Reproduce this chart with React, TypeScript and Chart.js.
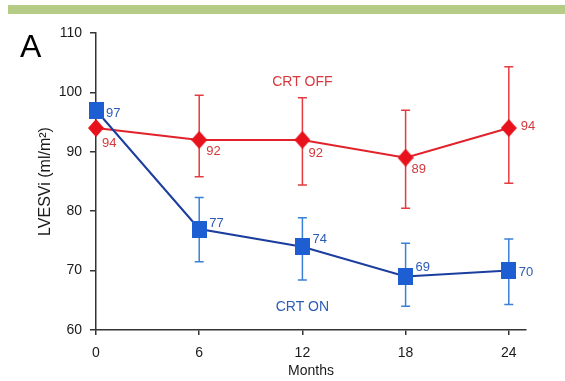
import React, { useEffect, useRef } from 'react';
import { Chart, registerables } from 'chart.js';

Chart.register(...registerables);

// Follow-up time points (months) and axis ticks
const months = [0, 6, 12, 18, 24];
const monthTicks = [0, 6, 12, 18, 24];
const lvesviTicks = [60, 70, 80, 90, 100, 110];

// LVESVi means (ml/m²) with upper / lower error-bar limits
const crtOn = [97, 77, 74, 69, 70];
const crtOnUpper = [null, 82.3, 78.9, 74.6, 75.3];
const crtOnLower = [null, 71.5, 68.4, 64.0, 64.3];

const crtOff = [94, 92, 92, 89, 94];
const crtOffUpper = [null, 99.5, 99.1, 97.0, 104.3];
const crtOffLower = [null, 85.8, 84.4, 80.5, 84.7];

// Group names and where they sit in data space
const groupNames = ['CRT ON', 'CRT OFF'];
const groupNameAnchors = [
  { x: 12, y: 63.9 },
  { x: 12, y: 101.8 },
];

const FONT = "'Liberation Sans', Arial, Helvetica, sans-serif";
const BLUE_LINE = '#1b3d9e';
const BLUE_MARK = '#1d5fd3';
const BLUE_BAR = '#3a80d6';
const BLUE_TEXT = '#2b5cb6';
const RED_LINE = '#e2222a';
const RED_MARK = '#e8121c';
const RED_BAR = '#e53a3f';
const RED_TEXT = '#d6383c';

// label offsets (px) next to each marker
const onLabelOffsets = [
  { dx: 10, dy: 3 },
  { dx: 10, dy: -6 },
  { dx: 10, dy: -7 },
  { dx: 10, dy: -9 },
  { dx: 10, dy: 2 },
];
const offLabelOffsets = [
  { dx: 6, dy: 15 },
  { dx: 7, dy: 12 },
  { dx: 6, dy: 14 },
  { dx: 6, dy: 12 },
  { dx: 12, dy: -2 },
];

function makeSquare(w: number, h: number, color: string) {
  const c = document.createElement('canvas');
  c.width = w;
  c.height = h;
  const g = c.getContext('2d')!;
  g.fillStyle = color;
  g.fillRect(0, 0, w, h);
  return c;
}

function makeDiamond(w: number, h: number, color: string) {
  const c = document.createElement('canvas');
  c.width = w;
  c.height = h;
  const g = c.getContext('2d')!;
  g.fillStyle = color;
  g.beginPath();
  g.moveTo(w / 2, 0);
  g.lineTo(w, h / 2);
  g.lineTo(w / 2, h);
  g.lineTo(0, h / 2);
  g.closePath();
  g.fill();
  return c;
}

const series = [
  { values: crtOn, upper: crtOnUpper, lower: crtOnLower, bar: BLUE_BAR, text: BLUE_TEXT, offsets: onLabelOffsets },
  { values: crtOff, upper: crtOffUpper, lower: crtOffLower, bar: RED_BAR, text: RED_TEXT, offsets: offLabelOffsets },
];

const errorBarsPlugin = {
  id: 'errorBars',
  beforeDatasetsDraw(chart: any) {
    const { ctx, scales } = chart;
    ctx.save();
    ctx.lineWidth = 1.5;
    series.forEach((s) => {
      ctx.strokeStyle = s.bar;
      months.forEach((m, i) => {
        const hi = s.upper[i];
        const lo = s.lower[i];
        if (hi == null || lo == null) return;
        const x = scales.x.getPixelForValue(m);
        const yHi = scales.y.getPixelForValue(hi);
        const yLo = scales.y.getPixelForValue(lo);
        ctx.beginPath();
        ctx.moveTo(x, yHi);
        ctx.lineTo(x, yLo);
        ctx.moveTo(x - 4.5, yHi);
        ctx.lineTo(x + 4.5, yHi);
        ctx.moveTo(x - 4.5, yLo);
        ctx.lineTo(x + 4.5, yLo);
        ctx.stroke();
      });
    });
    ctx.restore();
  },
};

const annotationsPlugin = {
  id: 'annotations',
  afterDatasetsDraw(chart: any) {
    const { ctx, scales } = chart;
    ctx.save();
    ctx.textAlign = 'left';
    ctx.textBaseline = 'middle';
    ctx.font = `13px ${FONT}`;
    series.forEach((s) => {
      ctx.fillStyle = s.text;
      months.forEach((m, i) => {
        const x = scales.x.getPixelForValue(m);
        const y = scales.y.getPixelForValue(s.values[i]);
        const o = s.offsets[i];
        ctx.fillText(String(s.values[i]), x + o.dx, y + o.dy);
      });
    });
    ctx.font = `14px ${FONT}`;
    ctx.textAlign = 'center';
    groupNames.forEach((name, i) => {
      ctx.fillStyle = series[i].text;
      const a = groupNameAnchors[i];
      ctx.fillText(name, scales.x.getPixelForValue(a.x), scales.y.getPixelForValue(a.y));
    });
    ctx.restore();
  },
  afterDraw(chart: any) {
    const { ctx } = chart;
    ctx.save();
    ctx.fillStyle = '#b5cc86';
    ctx.fillRect(8, 5, 557, 9);
    ctx.fillStyle = '#000';
    ctx.font = `32px ${FONT}`;
    ctx.textAlign = 'left';
    ctx.textBaseline = 'alphabetic';
    ctx.fillText('A', 20, 57);
    ctx.restore();
  },
};

export default function App() {
  const ref = useRef<HTMLCanvasElement | null>(null);

  useEffect(() => {
    if (!ref.current) return;
    const square = makeSquare(15, 17, BLUE_MARK);
    const diamond = makeDiamond(16, 18, RED_MARK);
    const axisColor = '#333';
    const tickFont = { family: FONT, size: 14 };

    const chart = new Chart(ref.current, {
      type: 'line',
      data: {
        datasets: [
          {
            label: groupNames[0],
            data: months.map((m, i) => ({ x: m, y: crtOn[i] })),
            borderColor: BLUE_LINE,
            borderWidth: 2,
            pointStyle: square as any,
            pointRadius: 8,
            backgroundColor: BLUE_MARK,
            clip: false as any,
          },
          {
            label: groupNames[1],
            data: months.map((m, i) => ({ x: m, y: crtOff[i] })),
            borderColor: RED_LINE,
            borderWidth: 2,
            pointStyle: diamond as any,
            pointRadius: 8,
            backgroundColor: RED_MARK,
            clip: false as any,
          },
        ],
      },
      options: {
        responsive: false,
        animation: false,
        devicePixelRatio: 1,
        layout: { padding: { left: 0, right: 39, top: 33, bottom: 0 } },
        plugins: {
          legend: { display: false },
          tooltip: { enabled: false },
        },
        scales: {
          x: {
            type: 'linear',
            min: 0,
            max: 25,
            afterBuildTicks: (s: any) => {
              s.ticks = monthTicks.map((v) => ({ value: v }));
            },
            afterFit: (s: any) => {
              s.height = 51;
            },
            grid: { drawOnChartArea: false, drawTicks: true, tickLength: 5, color: axisColor, lineWidth: 1.5 },
            border: { display: true, color: axisColor, width: 1.5 },
            ticks: { font: tickFont, color: '#1a1a1a', padding: 10, maxRotation: 0, autoSkip: false },
            title: { display: true, text: 'Months', font: tickFont, color: '#1a1a1a', padding: { top: 0, bottom: 1 } },
          },
          y: {
            type: 'linear',
            min: 60,
            max: 110,
            afterBuildTicks: (s: any) => {
              s.ticks = lvesviTicks.map((v) => ({ value: v }));
            },
            afterFit: (s: any) => {
              s.width = 96;
            },
            grid: { drawOnChartArea: false, drawTicks: true, tickLength: 6, color: axisColor, lineWidth: 1.5 },
            border: { display: true, color: axisColor, width: 1.5 },
            ticks: { font: tickFont, color: '#1a1a1a', padding: 8 },
            title: {
              display: true,
              text: 'LVESVi (ml/m²)',
              font: { family: FONT, size: 16 },
              color: '#1a1a1a',
              padding: { top: 36, bottom: 0 },
            },
          },
        },
      },
      plugins: [errorBarsPlugin, annotationsPlugin],
    });
    return () => chart.destroy();
  }, []);

  return (
    <div style={{ position: 'fixed', left: 0, top: 0, width: 565, height: 381, background: '#fff' }}>
      <canvas ref={ref} width={565} height={381} style={{ display: 'block' }} />
    </div>
  );
}
